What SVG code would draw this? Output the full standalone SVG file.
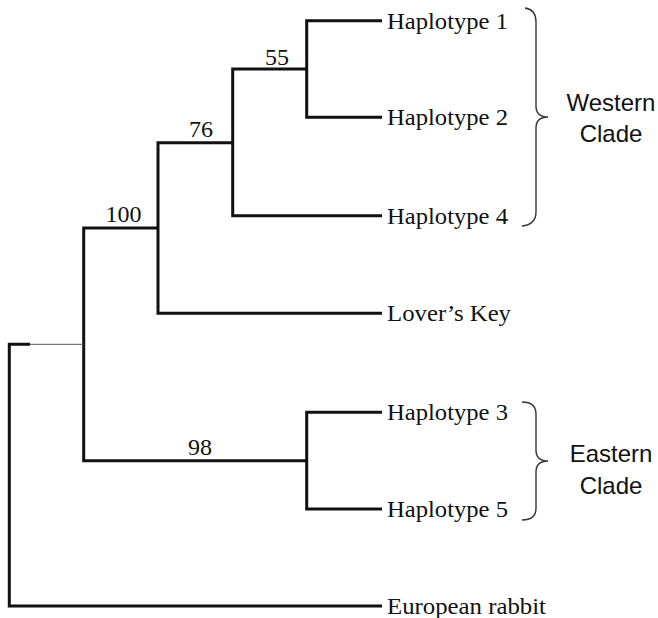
<svg xmlns="http://www.w3.org/2000/svg" width="658" height="618" viewBox="0 0 658 618">
  <style>
    .branch { fill: none; stroke: #111; stroke-width: 3; stroke-linejoin: miter; stroke-linecap: butt; }
    .thin { fill: none; stroke: #555; stroke-width: 1; }
    .brace { fill: none; stroke: #333; stroke-width: 1.4; }
    .taxon { font-family: "Liberation Serif", "Times New Roman", serif; font-size: 24px; fill: #111; }
    .support { font-family: "Liberation Serif", "Times New Roman", serif; font-size: 24px; fill: #111; text-anchor: middle; }
    .clade { font-family: "Liberation Sans", Arial, sans-serif; font-size: 24px; fill: #111; text-anchor: middle; }
  </style>
  <rect width="658" height="618" fill="#fff"/>

  <!-- tree branches -->
  <g id="connectors">
    <!-- node 55: Haplotype 1 / Haplotype 2 -->
    <path class="branch" d="M382,20.7 H306.7 V117.3 H382"/>
    <!-- node 76: (H1,H2) / Haplotype 4 -->
    <path class="branch" d="M306.7,69 H232.7 V215.7 H382"/>
    <!-- node 100: western group / Lover's Key -->
    <path class="branch" d="M232.7,142.7 H158 V313.3 H382"/>
    <!-- node 98: Haplotype 3 / Haplotype 5 -->
    <path class="branch" d="M382,412.3 H306.7 V509 H382"/>
    <!-- ingroup node -->
    <path class="branch" d="M158,228 H83.7 V460.7 H306.7"/>
    <!-- root: ingroup / European rabbit -->
    <path class="thin" d="M30,344.3 H83.7"/>
    <path class="branch" d="M30,344.3 H9.3 V606 H382"/>
  </g>

  <!-- bootstrap support values -->
  <g id="support-values">
    <text class="support" x="277" y="64.5">55</text>
    <text class="support" x="201" y="137">76</text>
    <text class="support" x="123.5" y="222">100</text>
    <text class="support" x="200" y="455">98</text>
  </g>

  <!-- taxa -->
  <g id="haplotype-1"><text class="taxon" x="387" y="28.5" textLength="121" lengthAdjust="spacingAndGlyphs">Haplotype 1</text></g>
  <g id="haplotype-2"><text class="taxon" x="387" y="125" textLength="121" lengthAdjust="spacingAndGlyphs">Haplotype 2</text></g>
  <g id="haplotype-4"><text class="taxon" x="387" y="223.5" textLength="121" lengthAdjust="spacingAndGlyphs">Haplotype 4</text></g>
  <g id="lovers-key"><text class="taxon" x="387" y="321" textLength="124" lengthAdjust="spacingAndGlyphs">Lover’s Key</text></g>
  <g id="haplotype-3"><text class="taxon" x="387" y="420" textLength="121" lengthAdjust="spacingAndGlyphs">Haplotype 3</text></g>
  <g id="haplotype-5"><text class="taxon" x="387" y="516.5" textLength="121" lengthAdjust="spacingAndGlyphs">Haplotype 5</text></g>
  <g id="european-rabbit"><text class="taxon" x="387" y="613.5" textLength="159" lengthAdjust="spacingAndGlyphs">European rabbit</text></g>

  <!-- clade brackets -->
  <g id="western-clade">
    <path class="brace" d="M525,8 C532,9 536,14 536,22 L536,106 C536,113 540,117 548,117 C540,117 536,121 536,128 L536,212 C536,220 532,225 522,226"/>
    <text class="clade" x="611" y="111">Western</text>
    <text class="clade" x="611" y="142">Clade</text>
  </g>
  <g id="eastern-clade">
    <path class="brace" d="M522,402 C532,402 536,406 536,414 L536,450 C536,457 540,461 548,461 C540,461 536,465 536,472 L536,508 C536,516 532,520 522,520"/>
    <text class="clade" x="611" y="462">Eastern</text>
    <text class="clade" x="611" y="494">Clade</text>
  </g>
</svg>
